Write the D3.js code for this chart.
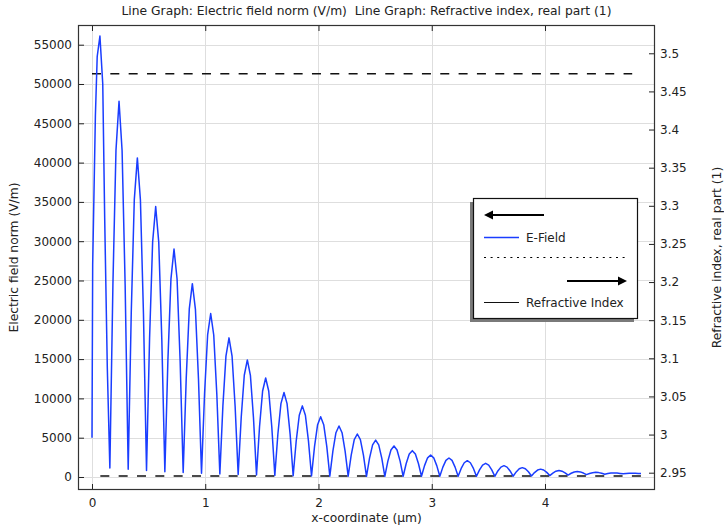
<!DOCTYPE html>
<html><head><meta charset="utf-8">
<script src="https://cdn.jsdelivr.net/npm/d3@7"></script>
<style>
body{margin:0;background:#fff}
svg{display:block;font-family:"DejaVu Sans",sans-serif}
</style>
</head><body><svg id="c" width="724" height="529"></svg>
<script>
const chartTitle = "Line Graph: Electric field norm (V/m)  Line Graph: Refractive index, real part (1)";
const xLabel = "x-coordinate (µm)";
const yLeftLabel = "Electric field norm (V/m)";
const yRightLabel = "Refractive index, real part (1)";
const legendLabels = ["E-Field", "Refractive Index"];
const xTicks = [0, 1, 2, 3, 4];
const yLeftTicks = [0, 5000, 10000, 15000, 20000, 25000, 30000, 35000, 40000, 45000, 50000, 55000];
const yRightTicks = [2.95, 3, 3.05, 3.1, 3.15, 3.2, 3.25, 3.3, 3.35, 3.4, 3.45, 3.5];

// E-field norm samples (x in µm, |E| in V/m)
const xCoord = [
 0, 0.006, 0.030, 0.046, 0.070, 0.095, 0.112, 0.135, 0.1577,
 0.1847, 0.2117, 0.2387, 0.2657, 0.2927, 0.3196,
 0.3465, 0.3735, 0.4005, 0.4275, 0.4545, 0.4814,
 0.5084, 0.5354, 0.5624, 0.5894, 0.6164, 0.6433,
 0.6702, 0.6972, 0.7242, 0.7512, 0.7782, 0.8051,
 0.8321, 0.8591, 0.8861, 0.9131, 0.9401, 0.9670,
 0.9940, 1.0210, 1.0480, 1.0750, 1.1020, 1.1289,
 1.1558, 1.1828, 1.2098, 1.2368, 1.2638, 1.2907,
 1.3177, 1.3447, 1.3717, 1.3987, 1.4257, 1.4526,
 1.4795, 1.5065, 1.5335, 1.5605, 1.5875, 1.6144,
 1.6414, 1.6684, 1.6954, 1.7224, 1.7494, 1.7763,
 1.8033, 1.8303, 1.8573, 1.8843, 1.9113, 1.9382,
 1.9651, 1.9921, 2.0191, 2.0461, 2.0731, 2.1000,
 2.1270, 2.1540, 2.1810, 2.2080, 2.2350, 2.2619,
 2.2888, 2.3158, 2.3428, 2.3698, 2.3968, 2.4237,
 2.4507, 2.4777, 2.5047, 2.5317, 2.5587, 2.5856,
 2.6126, 2.6396, 2.6666, 2.6936, 2.7206, 2.7475,
 2.7744, 2.8014, 2.8284, 2.8554, 2.8824, 2.9093,
 2.9363, 2.9633, 2.9903, 3.0173, 3.0443, 3.0712,
 3.0981, 3.1251, 3.1521, 3.1791, 3.2061, 3.2330,
 3.2600, 3.2870, 3.3140, 3.3410, 3.3680, 3.3949,
 3.4219, 3.4489, 3.4759, 3.5029, 3.5299, 3.5568,
 3.5837, 3.6107, 3.6377, 3.6647, 3.6917, 3.7186,
 3.7456, 3.7726, 3.7996, 3.8266, 3.8536, 3.8805,
 3.9074, 3.9344, 3.9614, 3.9884, 4.0154, 4.0423,
 4.0693, 4.0963, 4.1233, 4.1503, 4.1773, 4.2042,
 4.2312, 4.2582, 4.2852, 4.3122, 4.3392, 4.3661,
 4.3930, 4.4200, 4.4470, 4.4740, 4.5010, 4.5279,
 4.5549, 4.5819, 4.6089, 4.6359, 4.6629, 4.6898,
 4.7167, 4.7437, 4.7707, 4.7977, 4.8247, 4.848
];
const eFieldNorm = [
 5000, 27000, 46000, 53500, 56100, 50000, 33000, 14000, 1150,
 24500, 41550, 47800, 41530, 24400, 1000,
 20800, 35290, 40600, 35270, 20710, 820,
 17610, 29900, 34400, 29880, 17540, 680,
 14840, 25205, 29000, 25190, 14780, 560,
 12580, 21380, 24600, 21367, 12535, 470,
 10635, 18076, 20800, 18065, 10595, 390,
 9045, 15380, 17700, 15370, 9005, 310,
 7605, 12945, 14900, 12937, 7575, 250,
 6425, 10946, 12600, 10939, 6400, 200,
 5475, 9337, 10750, 9331, 5455, 160,
 4605, 7858, 9050, 7854, 4590, 130,
 3900, 6659, 7670, 6657, 3890, 110,
 3300, 5635, 6490, 5633, 3295, 100,
 2785, 4750, 5470, 4749, 2780, 90,
 2395, 4082, 4700, 4082, 2395, 90,
 2020, 3433, 3950, 3433, 2020, 90,
 1720, 2913, 3350, 2913, 1720, 90,
 1445, 2437, 2800, 2437, 1445, 90,
 1255, 2108, 2420, 2108, 1255, 90,
 1085, 1813, 2080, 1813, 1085, 90,
 915, 1519, 1740, 1519, 915, 90,
 765, 1259, 1440, 1260, 770, 100,
 645, 1044, 1190, 1048, 660, 130,
 565, 883, 1000, 890, 590, 180,
 500, 734, 820, 744, 535, 250,
 475, 640, 700, 646, 500, 300,
 445, 551, 590, 558, 470, 350,
 435, 497, 520, 504, 460, 400,
 440, 470, 480, 470, 460, 450
];
// Refractive index (right axis)
const indexUpperX = [0, 4.77];
const indexUpper = [3.4733, 3.4733];
const indexLowerX = [0, 4.848];
const indexLower = [2.9455, 2.9455];

const L = 78, R = 655, T = 25, B = 490;
const svg = d3.select("#c");
const x = d3.scaleLinear().domain([-0.1236, 4.9713]).range([L, R]);
const yL = d3.scaleLinear().domain([-1654, 57506]).range([B, T]);
const yR = d3.scaleLinear().domain([2.9273, 3.5371]).range([B, T]);
const ink = "#222";
const blue = "#1a3dff";

// grid
const grid = svg.append("g").attr("stroke", "#dedede").attr("stroke-width", 1);
xTicks.forEach(v => grid.append("line").attr("x1", Math.round(x(v)) + 0.5).attr("x2", Math.round(x(v)) + 0.5).attr("y1", T).attr("y2", B));
yLeftTicks.forEach(v => grid.append("line").attr("y1", Math.round(yL(v)) + 0.5).attr("y2", Math.round(yL(v)) + 0.5).attr("x1", L).attr("x2", R));

// data
svg.append("clipPath").attr("id", "pc").append("rect").attr("x", L).attr("y", T).attr("width", R - L).attr("height", B - T);
const plot = svg.append("g").attr("clip-path", "url(#pc)");
const dashLine = d3.line().x(d => x(d[0])).y(d => yR(d[1]));
plot.append("path").datum(indexUpperX.map((v, i) => [v, indexUpper[i]]))
  .attr("d", dashLine).attr("fill", "none").attr("stroke", "#111").attr("stroke-width", 1.5)
  .attr("stroke-dasharray", "9,9.33");
plot.append("path").datum(indexLowerX.map((v, i) => [v, indexLower[i]]))
  .attr("d", dashLine).attr("fill", "none").attr("stroke", "#111").attr("stroke-width", 1.5)
  .attr("stroke-dasharray", "9,9.33").attr("stroke-dashoffset", 10);
const eLine = d3.line().x(d => x(d[0])).y(d => yL(d[1]));
plot.append("path").datum(xCoord.map((v, i) => [v, eFieldNorm[i]]))
  .attr("d", eLine).attr("fill", "none").attr("stroke", blue).attr("stroke-width", 1.5)
  .attr("stroke-linejoin", "round");

// axes
function style(g) {
  g.select(".domain").remove();
  g.selectAll("line").attr("stroke", ink);
  g.selectAll("text").attr("fill", ink).style("font-size", "12px").style("font-family", '"DejaVu Sans",sans-serif');
}
svg.append("g").attr("transform", `translate(${L},0)`)
  .call(d3.axisLeft(yL).tickValues(yLeftTicks).tickSize(-6).tickPadding(6).tickFormat(d3.format("d"))).call(style);
svg.append("g").attr("transform", `translate(${R},0)`)
  .call(d3.axisRight(yR).tickValues(yRightTicks).tickSize(-6).tickPadding(5).tickFormat(d => String(+d.toFixed(2)))).call(style);
svg.append("g").attr("transform", `translate(0,${B})`)
  .call(d3.axisBottom(x).tickValues(xTicks).tickSize(-6).tickPadding(8).tickFormat(d3.format("d"))).call(style);
svg.append("g").attr("transform", `translate(0,${T})`)
  .call(d3.axisTop(x).tickValues(xTicks).tickSize(-6).tickFormat("")).call(style);

// frame
svg.append("rect").attr("x", L + 0.5).attr("y", T + 0.5).attr("width", R - L - 1).attr("height", B - T - 1)
  .attr("fill", "none").attr("stroke", "#333").attr("stroke-width", 1.2);

// titles
const tfont = "12.3px";
svg.append("text").attr("x", (L + R) / 2).attr("y", 15).attr("text-anchor", "middle")
  .style("white-space", "pre").style("font-size", tfont).attr("fill", ink).text(chartTitle);
svg.append("text").attr("x", (L + R) / 2).attr("y", 522).attr("text-anchor", "middle")
  .style("font-size", tfont).attr("fill", ink).text(xLabel);
svg.append("text").attr("transform", `translate(18,${(T + B) / 2}) rotate(-90)`).attr("text-anchor", "middle")
  .style("font-size", tfont).attr("fill", ink).text(yLeftLabel);
svg.append("text").attr("transform", `translate(721,${(T + B) / 2}) rotate(-90)`).attr("text-anchor", "middle")
  .style("font-size", tfont).attr("fill", ink).text(yRightLabel);

// legend
const lg = svg.append("g");
const bx = 473, by = 198, bw = 164, bh = 120;
lg.append("rect").attr("x", bx - 3).attr("y", by + 4).attr("width", bw).attr("height", bh).attr("fill", "#7a7a7a");
lg.append("rect").attr("x", bx + 0.5).attr("y", by + 0.5).attr("width", bw).attr("height", bh).attr("fill", "#fff").attr("stroke", "#111").attr("stroke-width", 1.2);
lg.append("line").attr("x1", 490).attr("x2", 544).attr("y1", 215).attr("y2", 215).attr("stroke", "#000").attr("stroke-width", 2);
lg.append("path").attr("d", "M484,215 L493,210.5 L493,219.5 Z").attr("fill", "#000");
lg.append("line").attr("x1", 484).attr("x2", 519).attr("y1", 237.5).attr("y2", 237.5).attr("stroke", blue).attr("stroke-width", 1.4);
lg.append("text").attr("x", 526).attr("y", 241.5).style("font-size", "12px").attr("fill", ink).text(legendLabels[0]);
lg.append("line").attr("x1", 484).attr("x2", 628).attr("y1", 257.5).attr("y2", 257.5).attr("stroke", "#000").attr("stroke-width", 1.2).attr("stroke-dasharray", "2,4.6");
lg.append("line").attr("x1", 567).attr("x2", 621).attr("y1", 281).attr("y2", 281).attr("stroke", "#000").attr("stroke-width", 2);
lg.append("path").attr("d", "M627,281 L618,276.5 L618,285.5 Z").attr("fill", "#000");
lg.append("line").attr("x1", 484).attr("x2", 519).attr("y1", 302.5).attr("y2", 302.5).attr("stroke", "#111").attr("stroke-width", 1.2);
lg.append("text").attr("x", 526).attr("y", 306.5).style("font-size", "12px").attr("fill", ink).text(legendLabels[1]);
</script>
</body></html>
